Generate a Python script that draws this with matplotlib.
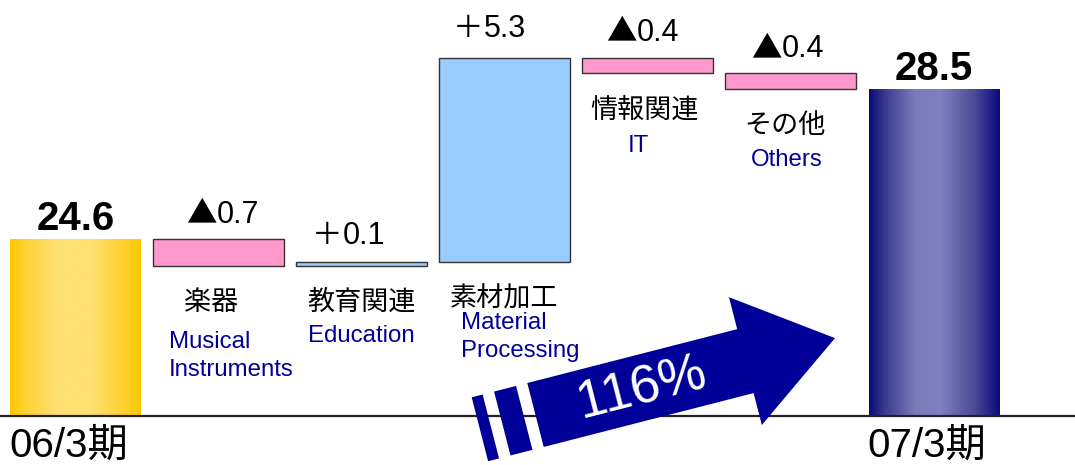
import numpy as np
import matplotlib
matplotlib.use('Agg')
import matplotlib.pyplot as plt
from matplotlib.patches import Polygon
from matplotlib.colors import LinearSegmentedColormap
import matplotlib.transforms as mtransforms

plt.rcParams['font.family'] = ['Liberation Sans', 'Noto Sans CJK JP', 'DejaVu Sans']

# ---------------- data ----------------
period_labels = ['06/3期', '07/3期']
start_value = 24.6
end_value = 28.5
segments_jp = ['楽器', '教育関連', '素材加工', '情報関連', 'その他']
segments_en = [['Musical', 'Instruments'], ['Education'], ['Material', 'Processing'], ['IT'], ['Others']]
changes = [-0.7, 0.1, 5.3, -0.4, -0.4]
change_labels = ['▲0.7', '＋0.1', '＋5.3', '▲0.4', '▲0.4']
growth_label = '116%'
base_value = 20.0

# ---------------- layout / style ----------------
W, H, DPI = 10.75, 4.65, 100
fig = plt.figure(figsize=(W, H), dpi=DPI)
ax = fig.add_axes([0, 0, 1, 1])
ax.axis('off')
XLIM = (-0.527, 6.985)
YLIM = (18.713, 30.803)

bar_w = 0.915
pink = '#FF99CC'
lblue = '#99CCFF'
navy_txt = '#000099'
arrow_col = '#000099'
gold_stops = [(0.0, '#FFC800'), (0.12, '#FDD236'), (0.35, '#FDE072'),
              (0.62, '#FDE072'), (0.88, '#FED02C'), (1.0, '#FFC800')]
navy_stops = [(0.0, '#0A0A7A'), (0.12, '#3A3A8E'), (0.35, '#7B7BB8'),
              (0.55, '#8080C0'), (0.8, '#4C4C98'), (1.0, '#0A0A7A')]
CJK = ['Noto Sans CJK JP']


def gradient_bar(patch, stops):
    x0, y0 = patch.get_x(), patch.get_y()
    w, h = patch.get_width(), patch.get_height()
    cmap = LinearSegmentedColormap.from_list('g', stops)
    grad = np.linspace(0, 1, 256)[None, :]
    ax.imshow(grad, cmap=cmap, extent=(x0, x0 + w, y0, y0 + h),
              aspect='auto', interpolation='bilinear', zorder=2)


n_seg = len(changes)
x_start = 0
x_seg = np.arange(1, n_seg + 1)
x_end = n_seg + 1

# total bars
b0 = ax.bar(x_start, start_value - base_value, bottom=base_value, width=bar_w,
            color='none', edgecolor='none', zorder=2)[0]
b1 = ax.bar(x_end, end_value - base_value, bottom=base_value, width=bar_w,
            color='none', edgecolor='none', zorder=2)[0]
gradient_bar(b0, gold_stops)
gradient_bar(b1, navy_stops)

# change bars
running = start_value
lows, highs = [], []
for xi, c in zip(x_seg, changes):
    lo, hi = min(running, running + c), max(running, running + c)
    ax.bar(xi, hi - lo, bottom=lo, width=bar_w,
           color=pink if c < 0 else lblue, edgecolor='#333333', lw=1.0, zorder=3)
    lows.append(lo)
    highs.append(hi)
    running += c

# baseline
ax.axhline(base_value, color='#222222', lw=1.6, zorder=4)

# total value labels
for xi, v in [(x_start, start_value), (x_end, end_value)]:
    ax.annotate(f'{v:.1f}', xy=(xi, v), xytext=(0, 9), textcoords='offset pixels',
                ha='center', va='baseline', fontsize=29, fontweight='bold', color='black')

# change value labels: sign symbol + number
chg_dy = [16, 18, 21, 17, 16]
chg_split = [-2.5, -20, -22, -12.5, -10.5]
for i, (xi, lab) in enumerate(zip(x_seg, change_labels)):
    sym, num = lab[0], lab[1:]
    ax.annotate(sym, xy=(xi, highs[i]), xytext=(chg_split[i] + 1, chg_dy[i]),
                textcoords='offset pixels', ha='right', va='baseline',
                fontsize=22, color='black', family=CJK)
    ax.annotate(num, xy=(xi, highs[i]), xytext=(chg_split[i] + 1, chg_dy[i]),
                textcoords='offset pixels', ha='left', va='baseline',
                fontsize=22, color='black')

# japanese segment labels
jp_dx = [-7, 0, -1, -3, -6]
for i, (xi, lab) in enumerate(zip(x_seg, segments_jp)):
    ax.annotate(lab, xy=(xi, lows[i]), xytext=(jp_dx[i], -37),
                textcoords='offset pixels', ha='center', va='center',
                fontsize=19.5, color='black', family=CJK)

# english segment labels (first-line baseline offsets)
en_layout = [(-49.5, -82, 'left'), (0, -76, 'center'), (-44, -67, 'left'),
             (-9.5, -79, 'center'), (-4.5, -77, 'center')]
en_line_gap = 28
for i, (xi, lines) in enumerate(zip(x_seg, segments_en)):
    dx, dy, ha = en_layout[i]
    for k, line in enumerate(lines):
        ax.annotate(line, xy=(xi, lows[i]), xytext=(dx, dy - k * en_line_gap),
                    textcoords='offset pixels', ha=ha, va='baseline',
                    fontsize=17.3, color=navy_txt)

# period labels
for xi, lab in zip([x_start, x_end], period_labels):
    ax.annotate(lab, xy=(xi - bar_w / 2, base_value), xytext=(-1, -41.5),
                textcoords='offset pixels', ha='left', va='baseline',
                fontsize=29, color='black')

# growth arrow (decoration), local frame in pixels: u along arrow, v across
ang = 14.4
half_w = 33
shaft_len = 216.7
head_half = 66
head_len = 92.5
shaft = [(0, -half_w), (shaft_len, -half_w), (shaft_len, -head_half),
         (shaft_len + head_len, 0), (shaft_len, head_half), (shaft_len, half_w), (0, half_w)]
stripes = [(-34.3, -11.6), (-57.4, -46.1)]
origin_px = (535.5, H * DPI - 415.0)
tr = (mtransforms.Affine2D().rotate_deg(ang).translate(*origin_px).scale(1.0 / DPI)
      + fig.dpi_scale_trans)
fig.patches.append(Polygon(shaft, closed=True, facecolor=arrow_col, edgecolor='none',
                           transform=tr, zorder=5))
for u0, u1 in stripes:
    fig.patches.append(Polygon([(u0, -half_w), (u1, -half_w), (u1, half_w), (u0, half_w)],
                               closed=True, facecolor=arrow_col, edgecolor='none',
                               transform=tr, zorder=5))
fig.text(642 / DPI, (H * DPI - 389) / DPI, growth_label, transform=fig.dpi_scale_trans,
         ha='center', va='center', rotation=ang, rotation_mode='anchor',
         fontsize=38, color='white', zorder=6)

ax.set_xlim(*XLIM)
ax.set_ylim(*YLIM)
fig.savefig('out.png', dpi=DPI, facecolor='white')
